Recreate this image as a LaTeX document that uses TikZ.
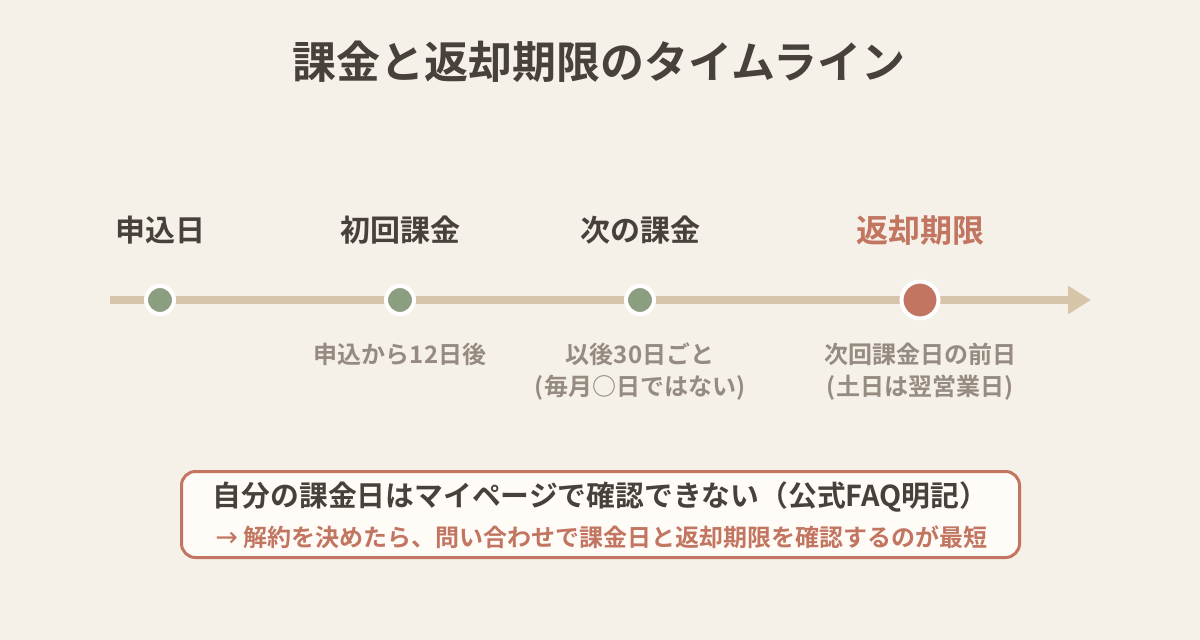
\documentclass[tikz,border=0pt]{standalone}
\usepackage{fontspec}
\setmainfont{Noto Sans CJK JP}
\newfontfamily\jpb{Noto Sans CJK JP Bold}
\newfontfamily\arrowfont{DejaVu Sans}
\usetikzlibrary{arrows.meta}
\definecolor{bg}{HTML}{F5F0E8}
\definecolor{tl}{HTML}{D6C5A9}
\definecolor{grn}{HTML}{8B9E80}
\definecolor{red}{HTML}{C27560}
\definecolor{dark}{HTML}{48413B}
\definecolor{gry}{HTML}{968B80}
\definecolor{boxfill}{HTML}{FFFCF8}
\tikzset{
  evlabel/.style={font=\jpb\fontsize{30}{34}\selectfont, text=dark, anchor=center},
  sublabel/.style={font=\jpb\fontsize{24}{32}\selectfont, text=gry, align=center, anchor=north},
  gdot/.style={circle, fill=grn, draw=white, line width=4pt, minimum size=28pt, inner sep=0pt},
  rdot/.style={circle, fill=red, draw=white, line width=4pt, minimum size=37pt, inner sep=0pt},
}
\begin{document}
\begin{tikzpicture}[x=1pt,y=-1pt]
\fill[bg] (0,0) rectangle (1200,640);
\useasboundingbox (0,0) rectangle (1200,640);
\node[font=\jpb\fontsize{44}{50}\selectfont, text=dark] (title) at (599,62) {課金と返却期限のタイムライン};
\coordinate (ls) at (110,300);
\coordinate (le) at (1091,300);
\draw[tl, line width=8pt, -{Triangle[length=23pt,width=27pt]}] (ls) -- (le);
\node[gdot] (d1) at (160,300) {};
\node[gdot] (d2) at (400,300) {};
\node[gdot] (d3) at (640,300) {};
\node[rdot] (d4) at (920,300) {};
\node[evlabel] (l1) at (160,230) {申込日};
\node[evlabel] (l2) at (400,230) {初回課金};
\node[evlabel] (l3) at (640,230) {次の課金};
\node[evlabel, text=red, font=\jpb\fontsize{32}{36}\selectfont] (l4) at (920,230) {返却期限};
\node[sublabel] (s2) at (400,339) {申込から12日後};
\node[sublabel] (s3) at (640,339) {以後30日ごと\\(毎月○日ではない)};
\node[sublabel] (s4) at (920,339) {次回課金日の前日\\(土日は翌営業日)};
\node[draw=red, fill=boxfill, line width=3pt, rounded corners=14pt, minimum width=838pt, minimum height=86pt] (box) at (600.5,514.5) {};
\node[font=\jpb\fontsize{28.8}{30}\selectfont, text=dark] (b1) at (600.5,497) {自分の課金日はマイページで確認できない（公式FAQ明記）};
\node[font=\jpb\fontsize{24}{26}\selectfont, text=red] (b2) at (601.5,537) {{\arrowfont\fontsize{27}{26}\selectfont →} 解約を決めたら、問い合わせで課金日と返却期限を確認するのが最短};
\end{tikzpicture}
\end{document}
